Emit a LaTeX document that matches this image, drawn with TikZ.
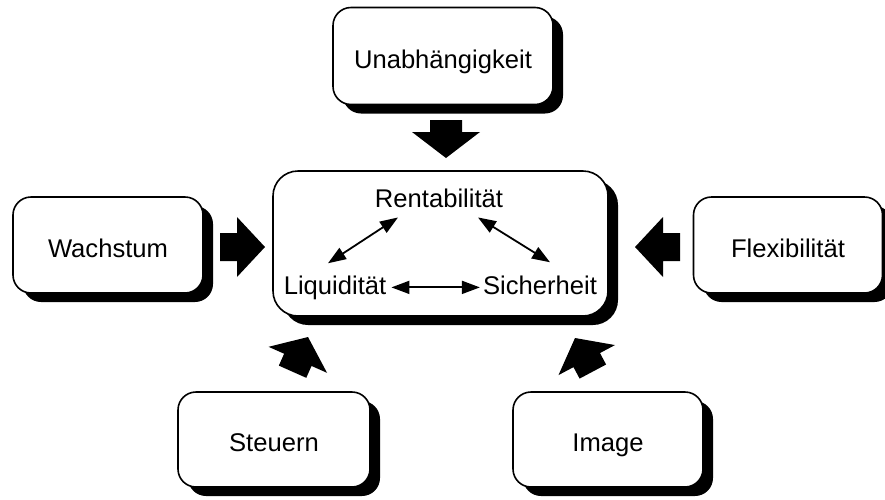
\documentclass[tikz,border=0pt]{standalone}
\usepackage{fontspec}
\setmainfont{Liberation Sans}
\usetikzlibrary{calc,shadows,arrows.meta}
\begin{document}
\begin{tikzpicture}[x=1pt,y=-1pt,
  box/.style={draw, line width=1.6pt, rounded corners=18pt, fill=white, inner sep=0pt,
    text height=24pt, text depth=0pt,
    font=\fontsize{25.6}{30}\selectfont,
    drop shadow={shadow xshift=10pt, shadow yshift=-9pt, fill=black, opacity=1}},
  lbl/.style={inner sep=0pt, anchor=base, font=\fontsize{25.6}{30}\selectfont},
  dbl/.style={line width=1.8pt,
    {Triangle[length=18pt,width=13pt]}-{Triangle[length=18pt,width=13pt]}},
  % block arrow with its tip at the origin, pointing along +x:
  % shaft length / shaft half width / head length / head half width
  pics/fatarrow/.style args={#1/#2/#3/#4}{code={
    \fill (0,0) -- (-#3,#4) -- (-#3,#2) -- (-#3-#1,#2) -- (-#3-#1,-#2)
      -- (-#3,-#2) -- (-#3,-#4) -- cycle;}}
]
\useasboundingbox (0,0) rectangle (885,499);
\clip (0,0) rectangle (885,499);

% outer boxes
\node[box, minimum width=220pt, minimum height=97pt] (U) at (443,56) {Unabhängigkeit};
\node[box, minimum width=190pt, minimum height=96pt] (W) at (108,245) {Wachstum};
\node[box, minimum width=189pt, minimum height=96pt] (F) at (788,245) {Flexibilität};
\node[box, minimum width=192pt, minimum height=95pt] (St) at (274,439.5) {Steuern};
\node[box, minimum width=190pt, minimum height=95pt] (Im) at (608,439.5) {Image};

% central box with the magic triangle
\node[box, rounded corners=25pt, minimum width=335pt, minimum height=145pt] (core) at (440.5,243.5) {};
\node[lbl] (R) at (439,207) {Rentabilität};
\node[lbl] (L) at (335,294) {Liquidität};
\node[lbl] (S) at (540,294) {Sicherheit};

\draw[dbl] ($(L.north)+(-7,-12)$) -- ($(R.south)+(-41,10)$);
\draw[dbl] ($(R.south)+(39,10)$) -- ($(S.north)+(10,-13)$);
\draw[dbl] ($(L.east)+(5,0)$) -- ($(L.east -| S.west)+(-3,0)$);

% block arrows pointing at the central box
\pic[rotate=-90] at (446,158) {fatarrow=12/16/26/34};
\pic[rotate=0]   at (265,247) {fatarrow=17/14/28/30};
\pic[rotate=180] at (635,247) {fatarrow=17/14/28/30};
\pic[rotate=66]  at (308,337) {fatarrow=13/15/25/32};
\pic[rotate=118] at (575,338) {fatarrow=13/15/25/32};
\end{tikzpicture}
\end{document}
